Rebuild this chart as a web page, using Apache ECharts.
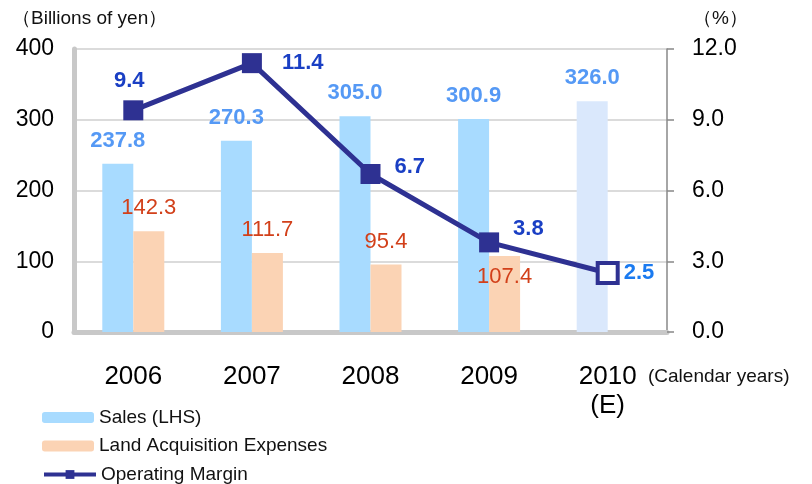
<!DOCTYPE html>
<html>
<head>
<meta charset="utf-8">
<script src="https://cdn.jsdelivr.net/npm/echarts@6/dist/echarts.min.js"></script>
<style>
  html, body { margin: 0; padding: 0; background: #fff; }
  #main-chart { width: 812px; height: 484px; }
</style>
</head>
<body>
<div id="main-chart"></div>
<script>
// data
const years = ['2006', '2007', '2008', '2009', '2010\n(E)'];
const sales = [237.8, 270.3, 305.0, 300.9, 326.0];
const landCost = [142.3, 111.7, 95.4, 107.4, null];
const margin = [9.4, 11.4, 6.7, 3.8, 2.5];
const leftTicks = [0, 100, 200, 300, 400];
const rightTicks = [0, 3, 6, 9, 12];
const seriesNames = ['Sales (LHS)', 'Land Acquisition Expenses', 'Operating Margin'];

const fontFam = 'Liberation Sans, Arial, sans-serif';
const navy = '#2E3192';

// sales bars, last one is estimate (paler)
const salesData = sales.map(function (v, i) {
    const item = { value: v };
    if (i === sales.length - 1) {
        item.itemStyle = { color: '#DAE8FC' };
    }
    return item;
});

// land bars, 2009 label sits inside the bar
const landData = landCost.map(function (v, i) {
    if (v === null) return '-';
    const item = { value: v };
    if (i === 3) {
        item.label = { position: 'insideTop', distance: 10 };
    }
    return item;
});

// line label positions differ per point
const marginLabels = [
    { position: 'top', distance: 8, offset: [-4, 0] },
    { position: 'right', distance: 20, offset: [0, 0] },
    { position: 'right', distance: 14, offset: [0, -7] },
    { position: 'right', distance: 14, offset: [0, -13] },
    { position: 'right', distance: 4, offset: [0, 0], color: '#1A7AF0' }
];
const marginData = margin.map(function (v, i) {
    const item = { value: v, label: marginLabels[i] };
    if (i === margin.length - 1) {
        item.itemStyle = { color: '#fff', borderColor: navy, borderWidth: 4 };
    }
    return item;
});

// one legend per row so they stack like the original
const legends = seriesNames.map(function (name, i) {
    return {
        left: 37,
        top: 403 + i * 28.5,
        itemWidth: 52,
        itemHeight: 11,
        textStyle: { fontSize: 19, color: '#111', fontFamily: fontFam },
        lineStyle: { width: 4 },
        data: [name]
    };
});

const myChart = echarts.init(document.getElementById('main-chart'));

const option = {
    animation: false,
    textStyle: { fontFamily: fontFam },
    grid: { left: 74, right: 145, top: 49, bottom: 152 },

    legend: legends,

    graphic: [
        { type: 'text', left: 12, top: 9, style: { text: '（Billions of yen）', fontSize: 19, fill: '#111', fontFamily: fontFam } },
        { type: 'text', left: 693, top: 9, style: { text: '（%）', fontSize: 19, fill: '#111', fontFamily: fontFam } },
        { type: 'text', left: 648, top: 367, style: { text: '(Calendar years)', fontSize: 19, fill: '#111', fontFamily: fontFam } }
    ],

    xAxis: {
        type: 'category',
        data: years,
        axisLine: { show: true, lineStyle: { color: '#c8c8c8', width: 5 } },
        axisTick: { show: false },
        axisLabel: { fontSize: 26, color: '#000', margin: 30, lineHeight: 29, fontFamily: fontFam }
    },

    yAxis: [
        {
            type: 'value',
            min: leftTicks[0],
            max: leftTicks[leftTicks.length - 1],
            interval: 100,
            axisLine: { show: true, lineStyle: { color: '#c8c8c8', width: 5 } },
            axisTick: { show: false },
            axisLabel: { fontSize: 23, color: '#000', margin: 20, fontFamily: fontFam },
            splitLine: { lineStyle: { color: '#cfcfcf', width: 1.5 } }
        },
        {
            type: 'value',
            min: rightTicks[0],
            max: rightTicks[rightTicks.length - 1],
            interval: 3,
            position: 'right',
            axisLine: { show: true, lineStyle: { color: '#888', width: 1.5 } },
            axisTick: { show: true, inside: false, length: 7, lineStyle: { color: '#888', width: 1.5 } },
            axisLabel: {
                fontSize: 23, color: '#000', margin: 25, fontFamily: fontFam,
                formatter: function (v) { return v.toFixed(1); }
            },
            splitLine: { show: false }
        }
    ],

    series: [
        {
            name: seriesNames[0],
            type: 'bar',
            barWidth: 31,
            barGap: '0%',
            itemStyle: { color: '#A8DBFF' },
            label: {
                show: true, position: 'top', distance: 12,
                fontSize: 22, fontWeight: 'bold', color: '#5599F5', fontFamily: fontFam,
                formatter: function (p) { return p.value.toFixed(1); }
            },
            data: salesData,
            z: 2
        },
        {
            name: seriesNames[1],
            type: 'bar',
            barWidth: 31,
            barGap: '0%',
            itemStyle: { color: '#FBD3B4' },
            label: {
                show: true, position: 'top', distance: 12,
                fontSize: 22, color: '#D2401A', fontFamily: fontFam,
                formatter: function (p) { return p.value.toFixed(1); }
            },
            data: landData,
            z: 2
        },
        {
            name: seriesNames[2],
            type: 'line',
            yAxisIndex: 1,
            symbol: 'rect',
            symbolSize: 20,
            lineStyle: { color: navy, width: 5 },
            itemStyle: { color: navy },
            label: {
                show: true, fontSize: 22, fontWeight: 'bold', color: '#1A3FC4', fontFamily: fontFam,
                formatter: function (p) { return p.value.toFixed(1); }
            },
            data: marginData,
            z: 5
        }
    ]
};

myChart.setOption(option);
</script>
</body>
</html>
